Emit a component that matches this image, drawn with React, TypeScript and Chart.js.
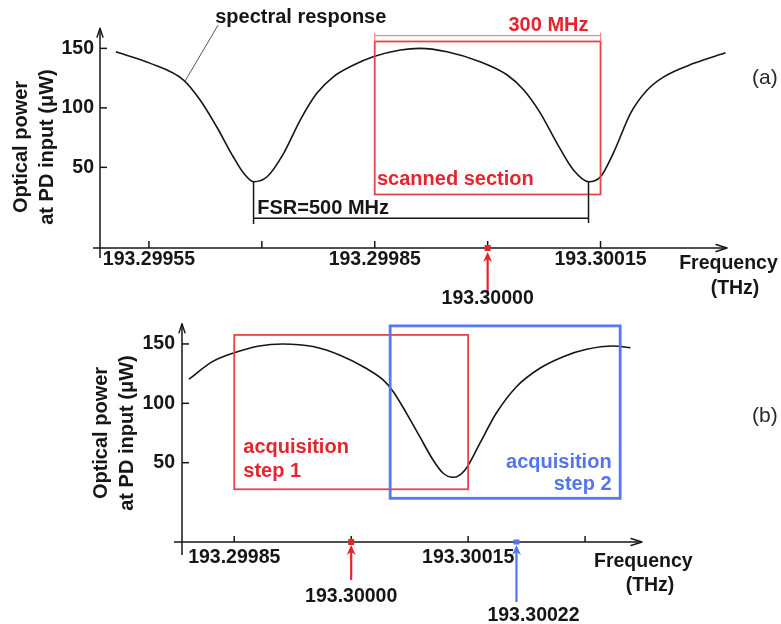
import React, { useEffect, useRef } from 'react';
import { Chart, registerables } from 'chart.js';

Chart.register(...registerables);

const FONT = "'Liberation Sans', Arial, Helvetica, sans-serif";
const BLACK = '#161616';
const RED = '#e4252f';
const RED_BOX = '#e8434c';
const RED_DIM = '#f0868b';
const BLUE = '#5473ee';
const BLUE_BOX = '#5677f2';

// ---------- Panel (a): frequency offset from 193.30000 THz (MHz), power (µW)
const FREQ_A_MHZ = [
  -494, -448, -404, -382, -360, -338, -324, -311, -293, -271, -249, -227, -205, -178, -152, -116,
  -90, -54, -10, 26, 48, 70, 92, 114, 134, 150, 167, 190, 212, 234, 274, 316,
];
const POWER_A_UW = [
  147.1, 137.4, 123.4, 106.6, 84.1, 58.9, 45.0, 37.9, 42.1, 61.8, 89.7, 112.2, 126.1, 136.0, 142.9, 148.6,
  150.0, 147.1, 138.7, 127.6, 115.0, 95.6, 70.4, 47.7, 37.9, 42.1, 62.0, 95.6, 115.0, 126.1, 137.4, 146.3,
];
const TICKS_A_MHZ = [-450, -300, -150, 0, 150];
const TICK_LABELS_A = ['193.29955', '', '193.29985', '', '193.30015'];

// ---------- Panel (b)
const FREQ_B_MHZ = [
  -208, -178, -148, -118, -88, -49, -15, 19, 41, 54, 71, 88, 105, 118, 131, 146, 165, 186, 212, 242, 272,
  302, 336, 358,
];
const POWER_B_UW = [
  120.3, 135.1, 143.0, 148.3, 150.0, 147.8, 140.7, 129.5, 119.7, 109.8, 91.6, 71.9, 52.3, 41.1, 37.7, 43.9,
  66.3, 91.6, 114.0, 129.5, 139.3, 145.5, 148.3, 146.9,
];
const TICKS_B_MHZ = [-150, 0, 150, 300];
const TICK_LABELS_B = ['193.29985', '', '193.30015', ''];

const Y_TICKS = [50, 100, 150];
const Y_TITLE = ['Optical power', 'at PD input (μW)'];
const X_TITLE = ['Frequency', '(THz)'];

// annotation anchors (data units)
const SCANNED_A = [-150, 150];
const FSR_MINIMA_A = [-311, 134];
const STEP1_B = [-150, 150];
const STEP2_B = [50, 345];
const MARK_CENTER = 0; // 193.30000
const MARK_STEP2 = 212; // 193.30022 as drawn

const LABEL_SIZE = 19.5;

type Ctx = CanvasRenderingContext2D;

function seg(ctx: Ctx, x1: number, y1: number, x2: number, y2: number, color: string, w: number) {
  ctx.save();
  ctx.beginPath();
  ctx.moveTo(x1, y1);
  ctx.lineTo(x2, y2);
  ctx.strokeStyle = color;
  ctx.lineWidth = w;
  ctx.stroke();
  ctx.restore();
}

function openHead(ctx: Ctx, x: number, y: number, dir: 'up' | 'right', len: number, half: number) {
  ctx.save();
  ctx.beginPath();
  if (dir === 'up') {
    ctx.moveTo(x - half, y + len);
    ctx.lineTo(x, y);
    ctx.lineTo(x + half, y + len);
  } else {
    ctx.moveTo(x - len, y - half);
    ctx.lineTo(x, y);
    ctx.lineTo(x - len, y + half);
  }
  ctx.strokeStyle = BLACK;
  ctx.lineWidth = 1.4;
  ctx.lineJoin = 'round';
  ctx.lineCap = 'round';
  ctx.stroke();
  ctx.restore();
}

function markerArrow(ctx: Ctx, x: number, tipY: number, tailY: number, color: string) {
  seg(ctx, x, tailY, x, tipY + 6, color, 2.2);
  ctx.save();
  ctx.beginPath();
  ctx.moveTo(x, tipY);
  ctx.lineTo(x + 4.5, tipY + 10);
  ctx.lineTo(x, tipY + 7);
  ctx.lineTo(x - 4.5, tipY + 10);
  ctx.closePath();
  ctx.fillStyle = color;
  ctx.fill();
  ctx.restore();
}

function txt(
  ctx: Ctx,
  s: string,
  x: number,
  y: number,
  size: number,
  color: string,
  align: CanvasTextAlign,
  weight = 'bold'
) {
  ctx.save();
  ctx.font = `${weight} ${size}px ${FONT}`;
  ctx.fillStyle = color;
  ctx.textAlign = align;
  ctx.textBaseline = 'alphabetic';
  ctx.fillText(s, x, y);
  ctx.restore();
}

function rect(ctx: Ctx, x1: number, y1: number, x2: number, y2: number, color: string, w: number) {
  ctx.save();
  ctx.strokeStyle = color;
  ctx.lineWidth = w;
  ctx.strokeRect(x1, y1, x2 - x1, y2 - y1);
  ctx.restore();
}

function drawAxes(chart: any, ticks: number[], tickLen: number, overhangX: number, overhangY: number) {
  const ctx: Ctx = chart.ctx;
  const { left, right, bottom } = chart.chartArea;
  const X = (v: number) => chart.scales.x.getPixelForValue(v);
  const Y = (v: number) => chart.scales.y.getPixelForValue(v);
  const topY = Y(167);
  seg(ctx, left - overhangX, bottom, right, bottom, BLACK, 1.5);
  openHead(ctx, right, bottom, 'right', 11, 3.5);
  seg(ctx, left, bottom + overhangY, left, topY, BLACK, 1.5);
  openHead(ctx, left, topY, 'up', 9, 3);
  ticks.forEach((t) => seg(ctx, X(t), bottom, X(t), bottom - tickLen, BLACK, 1.5));
  Y_TICKS.forEach((t) => seg(ctx, left, Y(t), left + 7, Y(t), BLACK, 1.5));
}

function square(ctx: Ctx, x: number, y: number, w: number, h: number, color: string) {
  ctx.save();
  ctx.fillStyle = color;
  ctx.fillRect(x - w / 2, y - h / 2, w, h);
  ctx.restore();
}

const decorA = {
  id: 'decorA',
  afterDraw(chart: any) {
    const ctx: Ctx = chart.ctx;
    const { bottom } = chart.chartArea;
    const X = (v: number) => chart.scales.x.getPixelForValue(v);
    const Y = (v: number) => chart.scales.y.getPixelForValue(v);

    // scanned section box & 300 MHz dimension
    rect(ctx, X(SCANNED_A[0]), Y(155.8), X(SCANNED_A[1]), Y(27.2), RED_BOX, 1.8);
    seg(ctx, X(SCANNED_A[0]), Y(160.8), X(SCANNED_A[1]), Y(160.8), RED_DIM, 1.2);
    seg(ctx, X(SCANNED_A[0]), Y(163.2), X(SCANNED_A[0]), Y(155.8), RED_DIM, 1.2);
    seg(ctx, X(SCANNED_A[1]), Y(163.2), X(SCANNED_A[1]), Y(155.8), RED_DIM, 1.2);
    txt(ctx, '300 MHz', X(134), Y(164.6), 20, RED, 'right');
    txt(ctx, 'scanned section', X(-147), Y(35.2), 20, RED, 'left');

    // FSR bracket
    seg(ctx, X(FSR_MINIMA_A[0]), Y(37.9), X(FSR_MINIMA_A[0]), Y(2.4), BLACK, 1.5);
    seg(ctx, X(FSR_MINIMA_A[1]), Y(37.9), X(FSR_MINIMA_A[1]), Y(3.2), BLACK, 1.5);
    seg(ctx, X(FSR_MINIMA_A[0]), Y(7.2), X(FSR_MINIMA_A[1]), Y(7.2), BLACK, 1.5);
    txt(ctx, 'FSR=500 MHz', X(-306), Y(10.8), 20, BLACK, 'left');

    // spectral response label
    txt(ctx, 'spectral response', X(-362), Y(171.4), 20, BLACK, 'left');
    seg(ctx, X(-358), Y(169.7), X(-402), Y(122.5), '#555', 1);

    drawAxes(chart, TICKS_A_MHZ, 7, 7, 10);

    // 193.30000 marker
    const xm = X(MARK_CENTER);
    square(ctx, xm, bottom, 6, 6, RED);
    markerArrow(ctx, xm, bottom + 4, bottom + 44, RED);
    txt(ctx, '193.30000', xm, bottom + 55.5, LABEL_SIZE, BLACK, 'center');

    // axis title & panel label
    txt(ctx, X_TITLE[0], 728.5, 268.5, LABEL_SIZE, BLACK, 'center');
    txt(ctx, X_TITLE[1], 735, 293.5, LABEL_SIZE, BLACK, 'center');
    txt(ctx, '(a)', 752, 83.5, 21, '#2a2a2a', 'left', 'normal');
  },
};

const decorB = {
  id: 'decorB',
  afterDraw(chart: any) {
    const ctx: Ctx = chart.ctx;
    const { bottom } = chart.chartArea;
    const X = (v: number) => chart.scales.x.getPixelForValue(v);
    const Y = (v: number) => chart.scales.y.getPixelForValue(v);

    rect(ctx, X(STEP1_B[0]), Y(157.6), X(STEP1_B[1]), Y(27.6), RED_BOX, 1.8);
    rect(ctx, X(STEP2_B[0]), Y(165.2), X(STEP2_B[1]), Y(20), BLUE_BOX, 2.8);
    txt(ctx, 'acquisition', X(-138.4), Y(57.9), 20, RED, 'left');
    txt(ctx, 'step 1', X(-138.4), Y(38.2), 20, RED, 'left');
    txt(ctx, 'acquisition', X(334), Y(45.3), 20, BLUE, 'right');
    txt(ctx, 'step 2', X(334), Y(27), 20, BLUE, 'right');

    drawAxes(chart, TICKS_B_MHZ, 6, 8, 13);

    const xr = X(MARK_CENTER);
    square(ctx, xr, bottom, 6, 6, RED);
    markerArrow(ctx, xr, bottom + 3, bottom + 38, RED);
    txt(ctx, '193.30000', xr, bottom + 59.5, LABEL_SIZE, BLACK, 'center');

    const xbl = X(MARK_STEP2);
    square(ctx, xbl, bottom, 6, 5, BLUE);
    markerArrow(ctx, xbl, bottom + 3, bottom + 60, BLUE);
    txt(ctx, '193.30022', xbl + 17, bottom + 79, LABEL_SIZE, BLACK, 'center');

    txt(ctx, X_TITLE[0], 643.3, 266.7, LABEL_SIZE, BLACK, 'center');
    txt(ctx, X_TITLE[1], 650, 290.5, LABEL_SIZE, BLACK, 'center');
    txt(ctx, '(b)', 752, 122, 21, '#2a2a2a', 'left', 'normal');
  },
};

function makeConfig(p: {
  freq: number[];
  power: number[];
  ticks: number[];
  labels: string[];
  xmin: number;
  xmax: number;
  ymin: number;
  ymax: number;
  yWidth: number;
  xHeight: number;
  padTop: number;
  padRight: number;
  yTickPad: number;
  xTickPad: number;
  titlePad: number;
  plugin: any;
}): any {
  const tickFont = { family: FONT, size: LABEL_SIZE, weight: 'bold' as const };
  return {
    type: 'line',
    data: {
      datasets: [
        {
          data: p.freq.map((f, i) => ({ x: f, y: p.power[i] })),
          borderColor: BLACK,
          borderWidth: 1.6,
          pointRadius: 0,
          tension: 0.4,
          cubicInterpolationMode: 'monotone',
          fill: false,
          clip: false,
        },
      ],
    },
    options: {
      animation: false,
      responsive: false,
      maintainAspectRatio: false,
      devicePixelRatio: 1,
      layout: { padding: { left: 0, right: p.padRight, top: p.padTop, bottom: 0 } },
      plugins: { legend: { display: false }, tooltip: { enabled: false } },
      scales: {
        x: {
          type: 'linear',
          min: p.xmin,
          max: p.xmax,
          grid: { display: false, drawTicks: false },
          border: { display: false },
          afterBuildTicks: (s: any) => {
            s.ticks = p.ticks.map((v) => ({ value: v }));
          },
          afterFit: (s: any) => {
            s.height = p.xHeight;
          },
          ticks: {
            autoSkip: false,
            maxRotation: 0,
            minRotation: 0,
            padding: p.xTickPad,
            color: BLACK,
            font: tickFont,
            callback: (_v: any, i: number) => p.labels[i],
          },
        },
        y: {
          type: 'linear',
          min: p.ymin,
          max: p.ymax,
          grid: { display: false, drawTicks: false },
          border: { display: false },
          afterBuildTicks: (s: any) => {
            s.ticks = Y_TICKS.map((v) => ({ value: v }));
          },
          afterFit: (s: any) => {
            s.width = p.yWidth;
          },
          ticks: {
            padding: p.yTickPad,
            color: BLACK,
            font: tickFont,
            callback: (v: any) => String(v),
          },
          title: {
            display: true,
            text: Y_TITLE,
            color: BLACK,
            font: { family: FONT, size: 20, weight: 'bold', lineHeight: 1.3 },
            padding: { top: p.titlePad, bottom: 0 },
          },
        },
      },
    },
    plugins: [p.plugin],
  };
}

function Panel({ top, height, config }: { top: number; height: number; config: () => any }) {
  const ref = useRef<HTMLCanvasElement>(null);
  useEffect(() => {
    const chart = new Chart(ref.current as HTMLCanvasElement, config());
    return () => chart.destroy();
  }, []);
  return (
    <canvas
      ref={ref}
      width={781}
      height={height}
      style={{ position: 'absolute', left: 0, top, width: 781, height, display: 'block' }}
    />
  );
}

export default function App() {
  return (
    <div
      style={{
        position: 'fixed',
        left: 0,
        top: 0,
        width: 781,
        height: 624,
        background: '#ffffff',
        overflow: 'hidden',
      }}
    >
      <Panel
        top={0}
        height={312}
        config={() =>
          makeConfig({
            freq: FREQ_A_MHZ,
            power: POWER_A_UW,
            ticks: TICKS_A_MHZ,
            labels: TICK_LABELS_A,
            xmin: -515,
            xmax: 318,
            ymin: -17.8,
            ymax: 152,
            yWidth: 100,
            xHeight: 312 - 248,
            padTop: 46,
            padRight: 781 - 727,
            yTickPad: 6,
            xTickPad: 0,
            titlePad: 8,
            plugin: decorA,
          })
        }
      />
      <Panel
        top={300}
        height={324}
        config={() =>
          makeConfig({
            freq: FREQ_B_MHZ,
            power: POWER_B_UW,
            ticks: TICKS_B_MHZ,
            labels: TICK_LABELS_B,
            xmin: -217,
            xmax: 373,
            ymin: -16.8,
            ymax: 166.8,
            yWidth: 182,
            xHeight: 324 - 242,
            padTop: 24,
            padRight: 781 - 642,
            yTickPad: 7,
            xTickPad: 4,
            titlePad: 88,
            plugin: decorB,
          })
        }
      />
    </div>
  );
}
